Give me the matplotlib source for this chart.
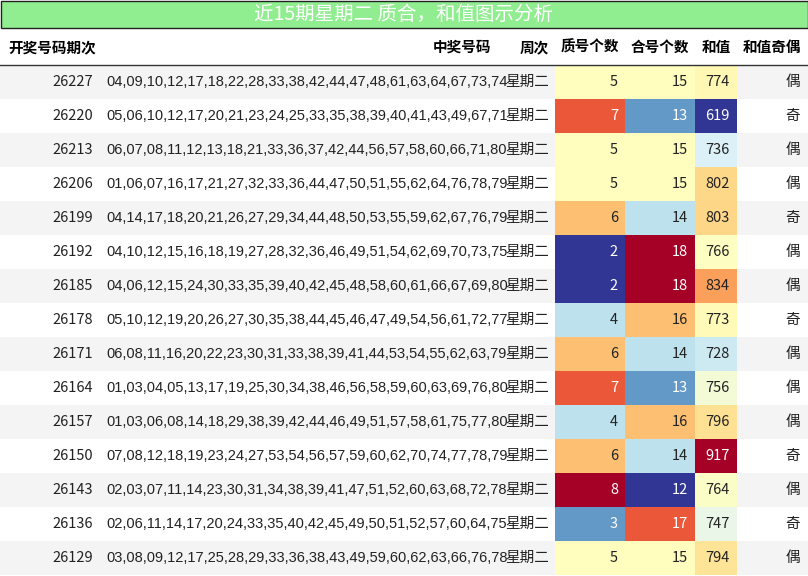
import matplotlib.pyplot as plt
import matplotlib as mpl
from matplotlib.patches import Rectangle

plt.rcParams['font.family'] = ['Noto Sans CJK SC', 'DejaVu Sans']

periods = [26227, 26220, 26213, 26206, 26199, 26192, 26185, 26178, 26171, 26164, 26157, 26150, 26143, 26136, 26129]
numbers = [
    "04,09,10,12,17,18,22,28,33,38,42,44,47,48,61,63,64,67,73,74",
    "05,06,10,12,17,20,21,23,24,25,33,35,38,39,40,41,43,49,67,71",
    "06,07,08,11,12,13,18,21,33,36,37,42,44,56,57,58,60,66,71,80",
    "01,06,07,16,17,21,27,32,33,36,44,47,50,51,55,62,64,76,78,79",
    "04,14,17,18,20,21,26,27,29,34,44,48,50,53,55,59,62,67,76,79",
    "04,10,12,15,16,18,19,27,28,32,36,46,49,51,54,62,69,70,73,75",
    "04,06,12,15,24,30,33,35,39,40,42,45,48,58,60,61,66,67,69,80",
    "05,10,12,19,20,26,27,30,35,38,44,45,46,47,49,54,56,61,72,77",
    "06,08,11,16,20,22,23,30,31,33,38,39,41,44,53,54,55,62,63,79",
    "01,03,04,05,13,17,19,25,30,34,38,46,56,58,59,60,63,69,76,80",
    "01,03,06,08,14,18,29,38,39,42,44,46,49,51,57,58,61,75,77,80",
    "07,08,12,18,19,23,24,27,53,54,56,57,59,60,62,70,74,77,78,79",
    "02,03,07,11,14,23,30,31,34,38,39,41,47,51,52,60,63,68,72,78",
    "02,06,11,14,17,20,24,33,35,40,42,45,49,50,51,52,57,60,64,75",
    "03,08,09,12,17,25,28,29,33,36,38,43,49,59,60,62,63,66,76,78",
]
weekday = "星期二"
primes = [5, 7, 5, 5, 6, 2, 2, 4, 6, 7, 4, 6, 8, 3, 5]
composites = [15, 13, 15, 15, 14, 18, 18, 16, 14, 13, 16, 14, 12, 17, 15]
sums = [774, 619, 736, 802, 803, 766, 834, 773, 728, 756, 796, 917, 764, 747, 794]
parity = ["偶", "奇", "偶", "偶", "奇", "偶", "偶", "奇", "偶", "偶", "偶", "奇", "偶", "奇", "偶"]
headers = ["开奖号码期次", "中奖号码", "周次", "质号个数", "合号个数", "和值", "和值奇偶"]
title = "近15期星期二 质合，和值图示分析"

cmap = plt.get_cmap('RdYlBu_r')


def cell_color(v, vmin, vmax):
    return cmap((v - vmin) / (vmax - vmin))


def text_color(rgba):
    lum = 0.299 * rgba[0] + 0.587 * rgba[1] + 0.114 * rgba[2]
    return 'white' if lum < 0.6 else '#222222'


fig = plt.figure(figsize=(8.08, 5.76), dpi=100)
ax = fig.add_axes([0, 0, 1, 1])
ax.set_xlim(0, 808)
ax.set_ylim(576, 0)
ax.axis('off')

# title bar
ax.add_patch(Rectangle((0.5, 0.5), 807, 27.5, facecolor='#90ee90', edgecolor='#222222', lw=1))
ax.text(404, 15, title, ha='center', va='center', fontsize=14, color='white')

# header
hy = 47
ax.text(8, hy, headers[0], ha='left', va='center', fontsize=10.5, fontweight='bold')
ax.text(491, hy, headers[1], ha='right', va='center', fontsize=10.5, fontweight='bold')
ax.text(534, hy, headers[2], ha='center', va='center', fontsize=10.5, fontweight='bold')
ax.text(590, hy, headers[3], ha='center', va='center', fontsize=10.5, fontweight='bold')
ax.text(660, hy, headers[4], ha='center', va='center', fontsize=10.5, fontweight='bold')
ax.text(716, hy, headers[5], ha='center', va='center', fontsize=10.5, fontweight='bold')
ax.text(772, hy, headers[6], ha='center', va='center', fontsize=10.5, fontweight='bold')
ax.plot([0, 808], [65, 65], color='#333333', lw=1)

row_h = 34
y0 = 65
for i in range(len(periods)):
    top = y0 + i * row_h
    cy = top + row_h / 2
    bg = '#f4f4f4' if i % 2 == 0 else 'white'
    ax.add_patch(Rectangle((0, top), 808, row_h, facecolor=bg, edgecolor='none'))

    c = cell_color(primes[i], min(primes), max(primes))
    ax.add_patch(Rectangle((555, top), 70, row_h, facecolor=c, edgecolor='none'))
    ax.text(618, cy, str(primes[i]), ha='right', va='center', fontsize=10.5, color=text_color(c))

    c = cell_color(composites[i], min(composites), max(composites))
    ax.add_patch(Rectangle((625, top), 70, row_h, facecolor=c, edgecolor='none'))
    ax.text(688, cy, str(composites[i]), ha='right', va='center', fontsize=10.5, color=text_color(c))

    c = cell_color(sums[i], min(sums), max(sums))
    ax.add_patch(Rectangle((695, top), 42, row_h, facecolor=c, edgecolor='none'))
    ax.text(730, cy, str(sums[i]), ha='right', va='center', fontsize=10.5, color=text_color(c))

    ax.text(93, cy, str(periods[i]), ha='right', va='center', fontsize=10.5, color='#222222')
    ax.text(106, cy, numbers[i], ha='left', va='center', fontsize=10.5, color='#222222',
            family=['Liberation Sans', 'DejaVu Sans'])
    ax.text(527, cy, weekday, ha='center', va='center', fontsize=10.5, color='#222222')
    ax.text(800, cy, parity[i], ha='right', va='center', fontsize=10.5, color='#222222')

fig.savefig('out.png', dpi=100, facecolor='white')
